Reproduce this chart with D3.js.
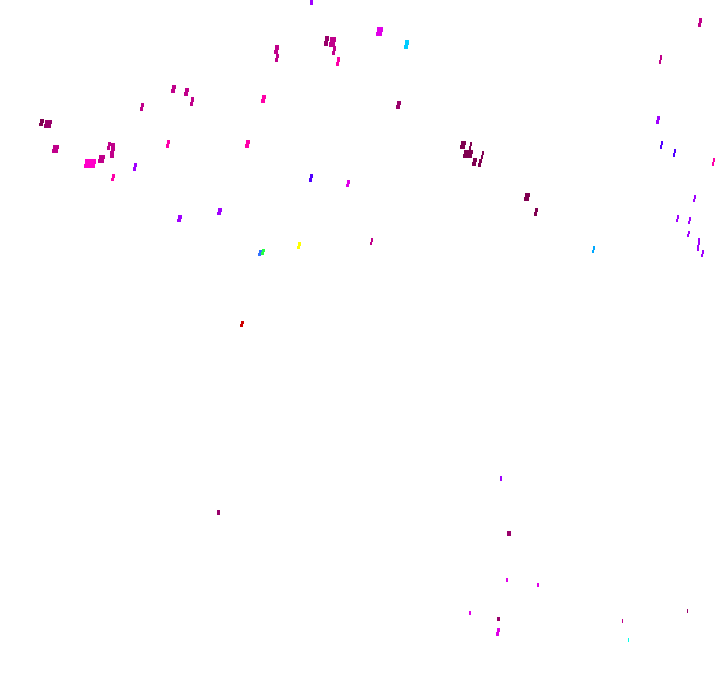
<!DOCTYPE html>
<html>
<head>
<meta charset="utf-8">
<script src="https://cdn.jsdelivr.net/npm/d3@7"></script>
<style>
html,body{margin:0;padding:0;background:#fff;}
svg{display:block;}
</style>
</head>
<body>
<script>
// Data (x, y in map units; w, h extents in map units; cls = colour class)
const xs  = [17.3,18.6,19.1,14.1,4.1,4.7,5.5,8.9,10.1,10.8,11.2,16.7,13.4,11.2,46.2,47.0,46.8,47.4,47.9,48.2,52.6,53.5,31.1,27.6,27.6,32.6,33.2,33.3,33.8,37.9,40.6,26.3,39.8,69.9,66.0,65.7,66.1,67.4,71.3,69.4,67.7,68.9,68.8,69.8,70.2,59.3,24.7,31.0,34.7,17.9,21.9,25.9,26.2,29.8,37.1,50.1,50.9,50.7,53.8,47.0,49.8,49.7,68.7,62.2,62.8,24.1,21.8];
const ys  = [8.9,9.2,10.1,10.7,12.2,12.4,14.9,16.4,15.9,14.6,15.0,14.4,16.7,17.7,14.5,14.6,15.4,16.2,16.3,15.5,19.7,21.2,0.2,5.0,5.8,4.1,4.2,5.1,6.1,3.1,4.4,9.9,10.5,2.3,5.9,12.0,14.5,15.3,16.2,19.8,21.9,22.0,23.4,24.4,25.4,25.0,14.4,17.8,18.3,21.8,21.2,25.3,25.2,24.5,24.2,47.8,53.3,58.0,58.5,61.3,61.9,63.2,61.1,62.1,64.0,32.4,51.2];
const ws  = [0.4,0.4,0.3,0.3,0.4,0.7,0.6,1.1,0.6,0.3,0.4,0.3,0.3,0.3,0.5,0.2,0.9,0.4,0.3,0.2,0.5,0.3,0.3,0.4,0.3,0.4,0.6,0.3,0.3,0.6,0.4,0.4,0.4,0.3,0.2,0.3,0.2,0.2,0.2,0.2,0.2,0.2,0.2,0.2,0.2,0.2,0.4,0.3,0.3,0.4,0.4,0.3,0.3,0.3,0.2,0.2,0.4,0.2,0.2,0.2,0.3,0.3,0.1,0.1,0.1,0.3,0.3];
const hs  = [0.8,0.8,0.9,0.8,0.7,0.8,0.8,0.9,0.8,0.8,1.5,0.8,0.8,0.7,0.8,0.8,0.8,0.8,0.8,0.8,0.8,0.8,0.5,0.9,0.8,1.0,1.0,0.9,0.9,0.9,0.9,0.8,0.8,0.9,0.9,0.8,0.8,0.8,0.8,0.7,0.7,0.7,0.6,1.3,0.7,0.7,0.8,0.8,0.7,0.7,0.7,0.6,0.6,0.7,0.7,0.5,0.5,0.4,0.4,0.4,0.4,0.8,0.4,0.4,0.4,0.6,0.5];
const cls = [3,3,3,3,1,2,3,5,3,3,3,4,7,4,1,1,1,1,1,1,1,1,7,3,3,2,3,3,4,6,10,4,2,3,3,7,8,8,4,7,7,7,7,7,7,9,4,8,6,7,7,14,12,13,3,7,2,6,6,6,2,6,2,3,11,0,2];
const classLabels = d3.range(15).map(String);

const W = 720, H = 692;
const x = d3.scaleLinear().domain([0, 72]).range([0, W]);
const y = d3.scaleLinear().domain([0, 69.2]).range([0, H]);
const palette = ["#cc0000","#800050","#99006a","#c0008a","#ff00a8","#ff00c8","#e000e8","#a000ff","#5000ff","#00a8ff","#00ccff","#00ffe8","#22ff44","#ffff00","#3370ff"];
const color = d3.scaleOrdinal().domain(classLabels).range(palette);

const data = xs.map((v, i) => ({x: v, y: ys[i], w: ws[i], h: hs[i], c: String(cls[i])}));

const svg = d3.select("body").append("svg").attr("width", W).attr("height", H);
svg.append("rect").attr("width", W).attr("height", H).attr("fill", "#fff");

svg.append("g").selectAll("path").data(data).join("path")
  .attr("shape-rendering", "crispEdges")
  .attr("fill", d => color(d.c))
  .attr("d", d => {
    const cx = x(d.x), cy = y(d.y);
    const w = Math.max(1, x(d.w)), h = Math.max(2, y(d.h));
    const x0 = Math.round(cx - w / 2), y0 = Math.round(cy - h / 2);
    const s = h > 5 ? 1 : 0;
    const mid = Math.round(y0 + h / 2);
    return `M${x0 + s},${y0}h${w}v${mid - y0}h${-s}v${Math.round(h) - (mid - y0)}h${-w}v${-(Math.round(h) - (mid - y0))}h${s}Z`;
  });
</script>
</body>
</html>
